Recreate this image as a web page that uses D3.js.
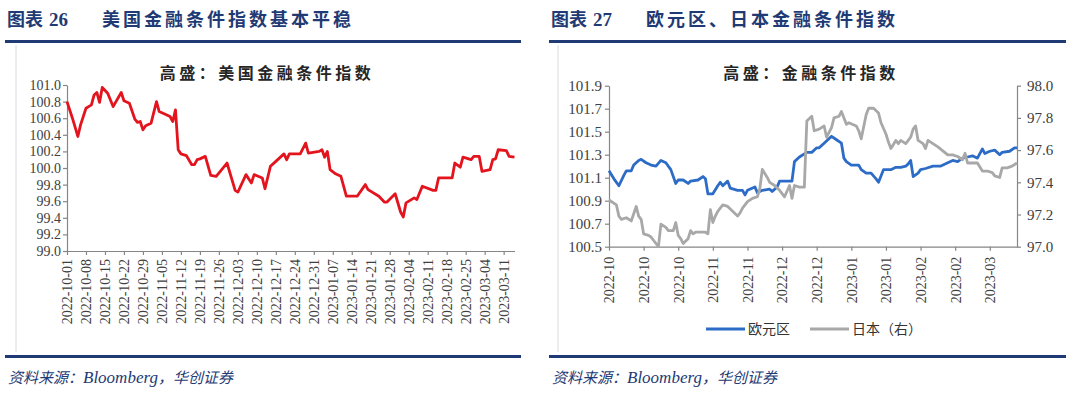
<!DOCTYPE html>
<html>
<head>
<meta charset="utf-8">
<script src="https://cdn.jsdelivr.net/npm/d3@7"></script>
<style>
body { margin: 0; background: #fff; }
svg { display: block; }
</style>
</head>
<body>
<script>
// ---- data ----
let usDates = ["2022-10-01","2022-10-03","2022-10-05","2022-10-06","2022-10-08","2022-10-10","2022-10-11","2022-10-12","2022-10-13","2022-10-14",
  "2022-10-16","2022-10-18","2022-10-21","2022-10-22","2022-10-24","2022-10-26","2022-10-27","2022-10-28","2022-10-29","2022-10-30",
  "2022-11-01","2022-11-03","2022-11-04","2022-11-08","2022-11-09","2022-11-10","2022-11-11","2022-11-12","2022-11-14","2022-11-16",
  "2022-11-17","2022-11-18","2022-11-19","2022-11-21","2022-11-23","2022-11-25","2022-11-29","2022-12-02","2022-12-03","2022-12-06",
  "2022-12-08","2022-12-09","2022-12-12","2022-12-13","2022-12-15","2022-12-17","2022-12-20","2022-12-21","2022-12-22","2022-12-26",
  "2022-12-28","2022-12-29","2023-01-02","2023-01-03","2023-01-04","2023-01-05","2023-01-06","2023-01-08","2023-01-10","2023-01-12",
  "2023-01-16","2023-01-19","2023-01-20","2023-01-24","2023-01-26","2023-01-27","2023-01-30","2023-02-01","2023-02-02","2023-02-03",
  "2023-02-06","2023-02-07","2023-02-09","2023-02-13","2023-02-14","2023-02-15","2023-02-20","2023-02-21","2023-02-23","2023-02-24",
  "2023-02-27","2023-02-28","2023-03-02","2023-03-03","2023-03-06","2023-03-07","2023-03-08","2023-03-09","2023-03-12","2023-03-13",
  "2023-03-15"];
let usValues = [100.80,100.60,100.38,100.52,100.72,100.76,100.88,100.91,100.79,100.97,
  100.90,100.74,100.91,100.81,100.78,100.59,100.55,100.56,100.46,100.51,
  100.54,100.80,100.68,100.62,100.56,100.70,100.22,100.17,100.15,100.04,
  100.04,100.10,100.11,100.14,99.91,99.90,100.06,99.73,99.71,99.92,
  99.82,99.92,99.88,99.75,100.02,100.08,100.17,100.10,100.17,100.17,
  100.30,100.18,100.20,100.22,100.13,100.20,99.98,99.93,99.90,99.66,
  99.66,99.80,99.74,99.66,99.59,99.59,99.69,99.47,99.41,99.58,
  99.64,99.62,99.78,99.73,99.73,99.88,99.88,100.06,100.01,100.13,
  100.10,100.14,100.14,99.96,99.98,100.10,100.11,100.22,100.21,100.14,
  100.13];

let euDates = ["2022-10-01","2022-10-03","2022-10-05","2022-10-07","2022-10-08","2022-10-10","2022-10-11","2022-10-13","2022-10-14","2022-10-16",
  "2022-10-18","2022-10-20","2022-10-22","2022-10-24","2022-10-26","2022-10-28","2022-10-29","2022-10-31","2022-11-02","2022-11-03",
  "2022-11-06","2022-11-08","2022-11-09","2022-11-10","2022-11-12","2022-11-14","2022-11-15","2022-11-16","2022-11-18","2022-11-19",
  "2022-11-22","2022-11-24","2022-11-25","2022-11-26","2022-11-29","2022-11-30","2022-12-02","2022-12-05","2022-12-06","2022-12-08",
  "2022-12-09","2022-12-12","2022-12-14","2022-12-15","2022-12-17","2022-12-20","2022-12-22","2022-12-24","2022-12-25","2022-12-27",
  "2022-12-30","2023-01-01","2023-01-03","2023-01-04","2023-01-05","2023-01-07","2023-01-10","2023-01-11","2023-01-13","2023-01-15",
  "2023-01-17","2023-01-18","2023-01-20","2023-01-23","2023-01-25","2023-01-27","2023-01-29","2023-01-30","2023-01-31","2023-02-01",
  "2023-02-03","2023-02-04","2023-02-06","2023-02-09","2023-02-12","2023-02-15","2023-02-17","2023-02-19","2023-02-21","2023-02-23",
  "2023-02-25","2023-02-27","2023-03-01","2023-03-02","2023-03-04","2023-03-06","2023-03-08","2023-03-09","2023-03-12","2023-03-14",
  "2023-03-15"];
let euValues = [101.16,101.09,101.03,101.12,101.16,101.16,101.21,101.25,101.26,101.23,
  101.21,101.20,101.25,101.23,101.17,101.05,101.08,101.08,101.05,101.07,
  101.08,101.11,101.09,100.96,100.96,101.03,101.06,101.03,101.07,101.01,
  100.99,100.99,100.95,100.99,101.02,100.97,100.99,101.00,100.98,101.02,
  101.07,101.07,101.07,101.24,101.28,101.32,101.32,101.36,101.36,101.40,
  101.46,101.43,101.40,101.27,101.24,101.21,101.21,101.17,101.14,101.14,
  101.09,101.06,101.17,101.17,101.19,101.19,101.20,101.22,101.25,101.11,
  101.14,101.17,101.18,101.20,101.20,101.23,101.25,101.24,101.27,101.28,
  101.29,101.27,101.35,101.31,101.33,101.34,101.30,101.32,101.33,101.36,
  101.36];

let jpDates = ["2022-10-01","2022-10-04","2022-10-05","2022-10-06","2022-10-08","2022-10-10","2022-10-12","2022-10-13","2022-10-14","2022-10-15",
  "2022-10-17","2022-10-18","2022-10-19","2022-10-20","2022-10-21","2022-10-22","2022-10-24","2022-10-25","2022-10-27","2022-10-28",
  "2022-10-29","2022-10-30","2022-10-31","2022-11-02","2022-11-03","2022-11-04","2022-11-05","2022-11-09","2022-11-10","2022-11-11",
  "2022-11-12","2022-11-13","2022-11-14","2022-11-16","2022-11-18","2022-11-20","2022-11-22","2022-11-23","2022-11-24","2022-11-26",
  "2022-11-28","2022-11-30","2022-12-01","2022-12-02","2022-12-04","2022-12-05","2022-12-07","2022-12-09","2022-12-10","2022-12-11",
  "2022-12-13","2022-12-14","2022-12-15","2022-12-17","2022-12-19","2022-12-20","2022-12-22","2022-12-23","2022-12-25","2022-12-27",
  "2022-12-28","2022-12-30","2022-12-31","2023-01-02","2023-01-03","2023-01-05","2023-01-06","2023-01-09","2023-01-10","2023-01-11",
  "2023-01-13","2023-01-14","2023-01-16","2023-01-18","2023-01-19","2023-01-21","2023-01-22","2023-01-23","2023-01-25","2023-01-26",
  "2023-01-27","2023-01-29","2023-01-31","2023-02-01","2023-02-02","2023-02-03","2023-02-05","2023-02-06","2023-02-07","2023-02-09",
  "2023-02-11","2023-02-15","2023-02-17","2023-02-19","2023-02-21","2023-02-22","2023-02-23","2023-02-25","2023-02-27","2023-03-01",
  "2023-03-03","2023-03-05","2023-03-06","2023-03-08","2023-03-09","2023-03-11","2023-03-13","2023-03-15"];
let jpValues = [97.29,97.26,97.19,97.17,97.18,97.16,97.25,97.19,97.17,97.08,
  97.07,97.06,97.04,97.02,97.00,97.14,97.12,97.10,97.10,97.15,
  97.07,97.05,97.02,97.05,97.10,97.08,97.09,97.09,97.08,97.23,
  97.15,97.19,97.22,97.26,97.25,97.22,97.19,97.21,97.24,97.28,
  97.30,97.31,97.36,97.48,97.43,97.40,97.38,97.35,97.33,97.31,
  97.38,97.30,97.38,97.37,97.37,97.78,97.81,97.72,97.73,97.75,
  97.68,97.74,97.80,97.81,97.84,97.76,97.77,97.75,97.72,97.67,
  97.82,97.86,97.86,97.83,97.77,97.70,97.65,97.61,97.66,97.64,
  97.66,97.64,97.68,97.73,97.75,97.66,97.64,97.61,97.66,97.64,
  97.62,97.57,97.57,97.56,97.54,97.58,97.52,97.52,97.52,97.47,
  97.47,97.46,97.44,97.43,97.49,97.49,97.50,97.52];

let usTicks = ["2022-10-01","2022-10-08","2022-10-15","2022-10-22","2022-10-29","2022-11-05","2022-11-12","2022-11-19",
  "2022-11-26","2022-12-03","2022-12-10","2022-12-17","2022-12-24","2022-12-31","2023-01-07","2023-01-14",
  "2023-01-21","2023-01-28","2023-02-04","2023-02-11","2023-02-18","2023-02-25","2023-03-04","2023-03-11"];
let rightTicks = ["2022-10-01","2022-10-15","2022-10-29","2022-11-12","2022-11-26","2022-12-10",
  "2022-12-24","2023-01-07","2023-01-21","2023-02-04","2023-02-18","2023-03-04"];
let usYTicks = [99.0,99.2,99.4,99.6,99.8,100.0,100.2,100.4,100.6,100.8,101.0];
let euYTicks = [100.5,100.7,100.9,101.1,101.3,101.5,101.7,101.9];
let jpYTicks = [97.0,97.2,97.4,97.6,97.8,98.0];
let dateRange = ["2022-10-01","2023-03-15"];

let w = 1080;
let h = 398;
let navy = "#1f3a74";
let axisColor = "#868686";
let cjk = "'Noto Sans CJK SC', sans-serif";
let serif = "'Liberation Serif', 'Times New Roman', serif";

let parse = d3.timeParse("%Y-%m-%d");

let svg = d3.select("body")
  .append("svg")
  .attr("width", w)
  .attr("height", h);

// ---- page frame: headings, rules, source ----
function panelFrame(x0, x1, num, title, frameX) {
  svg.append("text")
    .attr("x", x0 + 2).attr("y", 26)
    .attr("fill", navy)
    .style("font-family", cjk).style("font-weight", "bold").style("font-size", "18px")
    .text("图表");
  svg.append("text")
    .attr("x", x0 + 44).attr("y", 26)
    .attr("fill", navy)
    .style("font-family", serif).style("font-weight", "bold").style("font-size", "19px")
    .text(num);
  svg.append("text")
    .attr("x", x0 + 97).attr("y", 26)
    .attr("fill", navy)
    .style("font-family", cjk).style("font-weight", "bold").style("font-size", "18px")
    .style("letter-spacing", "3px")
    .text(title);

  svg.append("rect")
    .attr("x", x0).attr("y", 40).attr("width", x1 - x0).attr("height", 3)
    .attr("fill", navy);
  svg.append("rect")
    .attr("x", x0).attr("y", 355).attr("width", x1 - x0).attr("height", 3)
    .attr("fill", navy);

  svg.append("line")
    .attr("x1", frameX).attr("x2", frameX).attr("y1", 45).attr("y2", 352)
    .attr("stroke", "#dadada").attr("stroke-width", 1);

  let src = svg.append("text")
    .attr("x", x0 + 3).attr("y", 383)
    .attr("fill", navy)
    .style("font-style", "italic").style("font-size", "15px");
  src.append("tspan").style("font-family", cjk).text("资料来源：");
  src.append("tspan").style("font-family", serif).style("font-size", "17px").text("Bloomberg");
  src.append("tspan").style("font-family", cjk).text("，华创证券");
}

panelFrame(5, 521, "26", "美国金融条件指数基本平稳", 16);
panelFrame(549, 1066, "27", "欧元区、日本金融条件指数", 558);

function styleAxis(g) {
  g.select(".domain").attr("stroke", axisColor).attr("stroke-width", 1.2);
  g.selectAll(".tick line").attr("stroke", axisColor).attr("stroke-width", 1.2);
  g.selectAll("text")
    .attr("fill", "#404040")
    .style("font-family", serif);
}

// ---- left chart: US ----
let usX = d3.scaleTime()
  .domain(dateRange.map(parse))
  .range([67, 514.5]);
let usY = d3.scaleLinear()
  .domain([99.0, 101.0])
  .range([251, 85]);

svg.append("text")
  .attr("x", 267).attr("y", 79)
  .attr("text-anchor", "middle")
  .attr("fill", "#262626")
  .style("font-family", cjk).style("font-weight", "bold").style("font-size", "16px")
  .style("letter-spacing", "3.5px")
  .text("高盛：美国金融条件指数");

svg.append("g")
  .attr("transform", "translate(67,0)")
  .call(d3.axisLeft(usY).tickValues(usYTicks).tickFormat(d3.format(".1f")).tickSize(4).tickSizeOuter(0).tickPadding(2))
  .call(styleAxis)
  .selectAll("text").style("font-size", "14px");

svg.append("g")
  .attr("transform", "translate(0,251)")
  .call(d3.axisBottom(usX).tickValues(usTicks.map(parse)).tickFormat(d3.timeFormat("%Y-%m-%d")).tickSize(4).tickSizeOuter(0))
  .call(styleAxis)
  .selectAll("text")
    .style("font-size", "14px")
    .style("text-anchor", "end")
    .attr("transform", "rotate(-90)")
    .attr("x", -8).attr("y", 0).attr("dy", "0.35em");

let usLine = d3.line()
  .x((d, i) => usX(parse(usDates[i])))
  .y(d => usY(d));

svg.append("path")
  .datum(usValues)
  .attr("d", usLine)
  .attr("fill", "none")
  .attr("stroke", "#e3141d")
  .attr("stroke-width", 2.8)
  .attr("stroke-linejoin", "round");

// ---- right chart: euro area & Japan ----
let rX = d3.scaleTime()
  .domain(dateRange.map(parse))
  .range([609, 1017]);
let euY = d3.scaleLinear()
  .domain([100.5, 101.9])
  .range([246.7, 85.7]);
let jpY = d3.scaleLinear()
  .domain([97.0, 98.0])
  .range([246.7, 85.7]);

svg.append("text")
  .attr("x", 811).attr("y", 79)
  .attr("text-anchor", "middle")
  .attr("fill", "#262626")
  .style("font-family", cjk).style("font-weight", "bold").style("font-size", "16px")
  .style("letter-spacing", "3.5px")
  .text("高盛：金融条件指数");

svg.append("g")
  .attr("transform", "translate(609,0)")
  .call(d3.axisLeft(euY).tickValues(euYTicks).tickFormat(d3.format(".1f")).tickSize(4).tickSizeOuter(0).tickPadding(3))
  .call(styleAxis)
  .selectAll("text").style("font-size", "15px");

svg.append("g")
  .attr("transform", "translate(1017,0)")
  .call(d3.axisRight(jpY).tickValues(jpYTicks).tickFormat(d3.format(".1f")).tickSize(4).tickSizeOuter(0).tickPadding(6))
  .call(styleAxis)
  .selectAll("text").style("font-size", "15px");

svg.append("g")
  .attr("transform", "translate(0,246.7)")
  .call(d3.axisBottom(rX).tickValues(rightTicks.map(parse)).tickFormat(d3.timeFormat("%Y-%m")).tickSize(4).tickSizeOuter(0))
  .call(styleAxis)
  .selectAll("text")
    .style("font-size", "14px")
    .style("text-anchor", "end")
    .attr("transform", "rotate(-90)")
    .attr("x", -10).attr("y", 0).attr("dy", "0.35em");

let euLine = d3.line()
  .x((d, i) => rX(parse(euDates[i])))
  .y(d => euY(d));
let jpLine = d3.line()
  .x((d, i) => rX(parse(jpDates[i])))
  .y(d => jpY(d));

svg.append("path")
  .datum(euValues)
  .attr("d", euLine)
  .attr("fill", "none")
  .attr("stroke", "#2d6cc6")
  .attr("stroke-width", 2.8)
  .attr("stroke-linejoin", "round");

svg.append("path")
  .datum(jpValues)
  .attr("d", jpLine)
  .attr("fill", "none")
  .attr("stroke", "#a8a8a8")
  .attr("stroke-width", 2.8)
  .attr("stroke-linejoin", "round");

// legend
let legendItems = [
  { name: "欧元区", color: "#2d6cc6", x: 706 },
  { name: "日本（右）", color: "#a8a8a8", x: 810 }
];
let legend = svg.selectAll(".legend")
  .data(legendItems)
  .enter().append("g")
  .attr("class", "legend")
  .attr("transform", d => "translate(" + d.x + ",329)");

legend.append("line")
  .attr("x1", 0).attr("x2", 39).attr("y1", 0).attr("y2", 0)
  .attr("stroke", d => d.color)
  .attr("stroke-width", 3);

legend.append("text")
  .attr("x", 42).attr("y", 0).attr("dy", "0.36em")
  .attr("fill", "#333")
  .style("font-family", cjk).style("font-size", "14px")
  .text(d => d.name);
</script>
</body>
</html>
